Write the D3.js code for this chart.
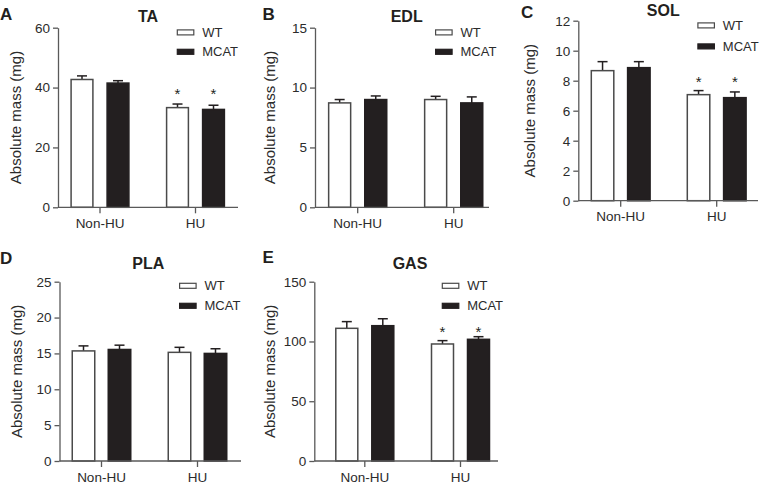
<!DOCTYPE html>
<html>
<head>
<meta charset="utf-8">
<script src="https://cdn.jsdelivr.net/npm/d3@7"></script>
<style>
  html, body { margin: 0; padding: 0; background: #fff; }
  svg { display: block; font-family: "Liberation Sans", Arial, Helvetica, sans-serif; }
</style>
</head>
<body>
<svg id="chart" width="761" height="487"></svg>
<script>
// ---------------- data ----------------
const categories = ["Non-HU", "HU"];
const series = ["WT", "MCAT"];

const panelLetters = ["A", "B", "C", "D", "E"];
const panelTitles = ["TA", "EDL", "SOL", "PLA", "GAS"];
const yLabel = "Absolute mass (mg)";

// means [Non-HU, HU]
const taWT = [42.7, 33.3];
const taMCAT = [41.5, 32.7];
const edlWT = [8.72, 9.0];
const edlMCAT = [9.0, 8.72];
const solWT = [8.67, 7.07];
const solMCAT = [8.87, 6.87];
const plaWT = [15.35, 15.15];
const plaMCAT = [15.55, 15.0];
const gasWT = [111.0, 97.9];
const gasMCAT = [113.2, 101.8];

// SEM (upper error) [Non-HU, HU]
const taWTerr = [1.2, 1.2];
const taMCATerr = [0.8, 1.4];
const edlWTerr = [0.28, 0.27];
const edlMCATerr = [0.3, 0.5];
const solWTerr = [0.6, 0.27];
const solMCATerr = [0.4, 0.38];
const plaWTerr = [0.7, 0.7];
const plaMCATerr = [0.6, 0.65];
const gasWTerr = [5.6, 2.8];
const gasMCATerr = [5.8, 2.2];

// significance (*) [Non-HU, HU]
const taSig = [false, true];
const edlSig = [false, false];
const solSig = [false, true];
const plaSig = [false, false];
const gasSig = [false, true];

// y tick labels
const taTicks = [0, 20, 40, 60];
const edlTicks = [0, 5, 10, 15];
const solTicks = [0, 2, 4, 6, 8, 10, 12];
const plaTicks = [0, 5, 10, 15, 20, 25];
const gasTicks = [0, 50, 100, 150];

// ---------------- layout ----------------
const panels = [
  { letter: panelLetters[0], title: panelTitles[0], wt: taWT, mcat: taMCAT, wtErr: taWTerr, mcatErr: taMCATerr, sig: taSig, ticks: taTicks,
    x0: 58, x1: 238, yTop: 27.7, yBot: 207.3, c0: 100, c1: 195.5, bw: 23.3, gap: 12.7,
    letterPos: [0, 20], titlePos: [148, 21.5], legPos: [176.7, 29.3, 19.4], yLabX: 20.5, starOff: 13.7 },
  { letter: panelLetters[1], title: panelTitles[1], wt: edlWT, mcat: edlMCAT, wtErr: edlWTerr, mcatErr: edlMCATerr, sig: edlSig, ticks: edlTicks,
    x0: 315, x1: 489, yTop: 27.7, yBot: 207.3, c0: 357.7, c1: 453.7, bw: 23.5, gap: 12.6,
    letterPos: [262.5, 20], titlePos: [406.7, 21.5], legPos: [435, 29.3, 19.4], yLabX: 274.5, starOff: 12 },
  { letter: panelLetters[2], title: panelTitles[2], wt: solWT, mcat: solMCAT, wtErr: solWTerr, mcatErr: solMCATerr, sig: solSig, ticks: solTicks,
    x0: 578.3, x1: 758, yTop: 20.7, yBot: 200.7, c0: 620.7, c1: 716.7, bw: 24, gap: 12.3,
    letterPos: [521, 18], titlePos: [663.3, 15.5], legPos: [697.3, 22.3, 21], yLabX: 534.5, starOff: 11.7 },
  { letter: panelLetters[3], title: panelTitles[3], wt: plaWT, mcat: plaMCAT, wtErr: plaWTerr, mcatErr: plaMCATerr, sig: plaSig, ticks: plaTicks,
    x0: 59.5, x1: 241, yTop: 281.7, yBot: 461, c0: 101.5, c1: 197.5, bw: 24, gap: 12,
    letterPos: [0, 263.5], titlePos: [148.3, 268.8], legPos: [179, 282.7, 20], yLabX: 21.5, starOff: 12 },
  { letter: panelLetters[4], title: panelTitles[4], wt: gasWT, mcat: gasMCAT, wtErr: gasWTerr, mcatErr: gasMCATerr, sig: gasSig, ticks: gasTicks,
    x0: 314.3, x1: 498, yTop: 281.7, yBot: 461, c0: 364.8, c1: 460.5, bw: 23.5, gap: 12.5,
    letterPos: [262.5, 262.5], titlePos: [410, 268.8], legPos: [441.7, 282.7, 20], yLabX: 274.5, starOff: 8.4 }
];

const INK = "#231f20";
const AXIS = "#595959";
const TXT = "#2b2b2b";
const svg = d3.select("#chart");

panels.forEach(p => {
  const g = svg.append("g");
  const yMax = p.ticks[p.ticks.length - 1];
  const y = d3.scaleLinear().domain([0, yMax]).range([p.yBot, p.yTop]);
  const step = p.c1 - p.c0;
  const xCat = d3.scaleBand().domain(categories).range([p.c0 - step / 2, p.c1 + step / 2]).paddingInner(0);
  const half = p.bw + p.gap / 2;
  const xSer = d3.scaleBand().domain(series).range([-half, half]).paddingInner(p.gap / (p.bw + p.gap)).paddingOuter(0);

  const rows = [];
  categories.forEach((c, i) => {
    rows.push({ cat: c, ser: "WT", v: p.wt[i], e: p.wtErr[i], sig: p.sig[i] });
    rows.push({ cat: c, ser: "MCAT", v: p.mcat[i], e: p.mcatErr[i], sig: p.sig[i] });
  });
  const cx = d => xCat(d.cat) + xCat.bandwidth() / 2;

  // error bars (upper only)
  const eg = g.append("g").attr("stroke", INK).attr("stroke-width", 1.5);
  rows.forEach(d => {
    const xm = cx(d) + xSer(d.ser) + xSer.bandwidth() / 2;
    eg.append("line").attr("x1", xm).attr("x2", xm).attr("y1", y(d.v)).attr("y2", y(d.v + d.e));
    eg.append("line").attr("x1", xm - 5).attr("x2", xm + 5).attr("y1", y(d.v + d.e)).attr("y2", y(d.v + d.e));
  });

  // bars
  g.selectAll("rect.bar").data(rows).enter().append("rect")
    .attr("class", "bar")
    .attr("x", d => cx(d) + xSer(d.ser) + 0.75)
    .attr("width", xSer.bandwidth() - 1.5)
    .attr("y", d => y(d.v))
    .attr("height", d => y(0) - y(d.v))
    .attr("fill", d => d.ser === "WT" ? "#ffffff" : INK)
    .attr("stroke", d => d.ser === "WT" ? "#4a4a4a" : INK)
    .attr("stroke-width", 1.5);

  // significance stars
  categories.forEach((c, i) => {
    if (!p.sig[i]) return;
    const top = Math.min(y(p.wt[i] + p.wtErr[i]), y(p.mcat[i] + p.mcatErr[i]));
    series.forEach(s => {
      const xm = xCat(c) + xCat.bandwidth() / 2 + xSer(s) + xSer.bandwidth() / 2;
      g.append("text").attr("x", xm).attr("y", top - p.starOff + 8.5)
        .attr("text-anchor", "middle").attr("font-size", 15).attr("fill", INK).text("*");
    });
  });

  // y axis
  const yAxis = d3.axisLeft(y).tickValues(p.ticks).tickSize(5).tickPadding(3).tickSizeOuter(0);
  const ya = g.append("g").attr("transform", `translate(${p.x0},0)`).call(yAxis);
  ya.select(".domain").attr("stroke", AXIS).attr("stroke-width", 1.3);
  ya.selectAll(".tick line").attr("stroke", AXIS).attr("stroke-width", 1.3);
  ya.selectAll(".tick text").attr("font-size", 13.5).attr("fill", TXT).attr("font-family", "Liberation Sans, Arial, sans-serif");

  // x axis
  const xAxis = d3.axisBottom(xCat).tickSize(6).tickPadding(5).tickSizeOuter(0);
  const xa = g.append("g").attr("transform", `translate(0,${p.yBot})`).call(xAxis);
  xa.select(".domain").remove();
  xa.append("line").attr("x1", p.x0).attr("x2", p.x1).attr("y1", 0).attr("y2", 0)
    .attr("stroke", AXIS).attr("stroke-width", 1.3);
  xa.selectAll(".tick line").attr("stroke", AXIS).attr("stroke-width", 1.3);
  xa.selectAll(".tick text").attr("font-size", 13.5).attr("fill", TXT).attr("font-family", "Liberation Sans, Arial, sans-serif");

  // y label
  g.append("text")
    .attr("transform", `translate(${p.yLabX},${(p.yTop + p.yBot) / 2}) rotate(-90)`)
    .attr("text-anchor", "middle").attr("font-size", 15).attr("fill", TXT)
    .text(yLabel);

  // title
  g.append("text").attr("x", p.titlePos[0]).attr("y", p.titlePos[1])
    .attr("text-anchor", "middle").attr("font-size", 16).attr("font-weight", "bold").attr("fill", INK)
    .text(p.title);

  // panel letter
  g.append("text").attr("x", p.letterPos[0]).attr("y", p.letterPos[1])
    .attr("font-size", 17).attr("font-weight", "bold").attr("fill", INK)
    .text(p.letter);

  // legend
  const lg = g.append("g").attr("transform", `translate(${p.legPos[0]},${p.legPos[1]})`);
  series.forEach((s, i) => {
    const row = lg.append("g").attr("transform", `translate(0,${i * p.legPos[2]})`);
    row.append("rect").attr("x", 0.6).attr("y", 0.6).attr("width", 16.5).attr("height", 5)
      .attr("fill", s === "WT" ? "#fff" : INK).attr("stroke", s === "WT" ? "#4a4a4a" : INK).attr("stroke-width", 1.2);
    row.append("text").attr("x", 25.5).attr("y", 3).attr("dy", "0.35em")
      .attr("font-size", 13).attr("fill", TXT).text(s);
  });
});
</script>
</body>
</html>
